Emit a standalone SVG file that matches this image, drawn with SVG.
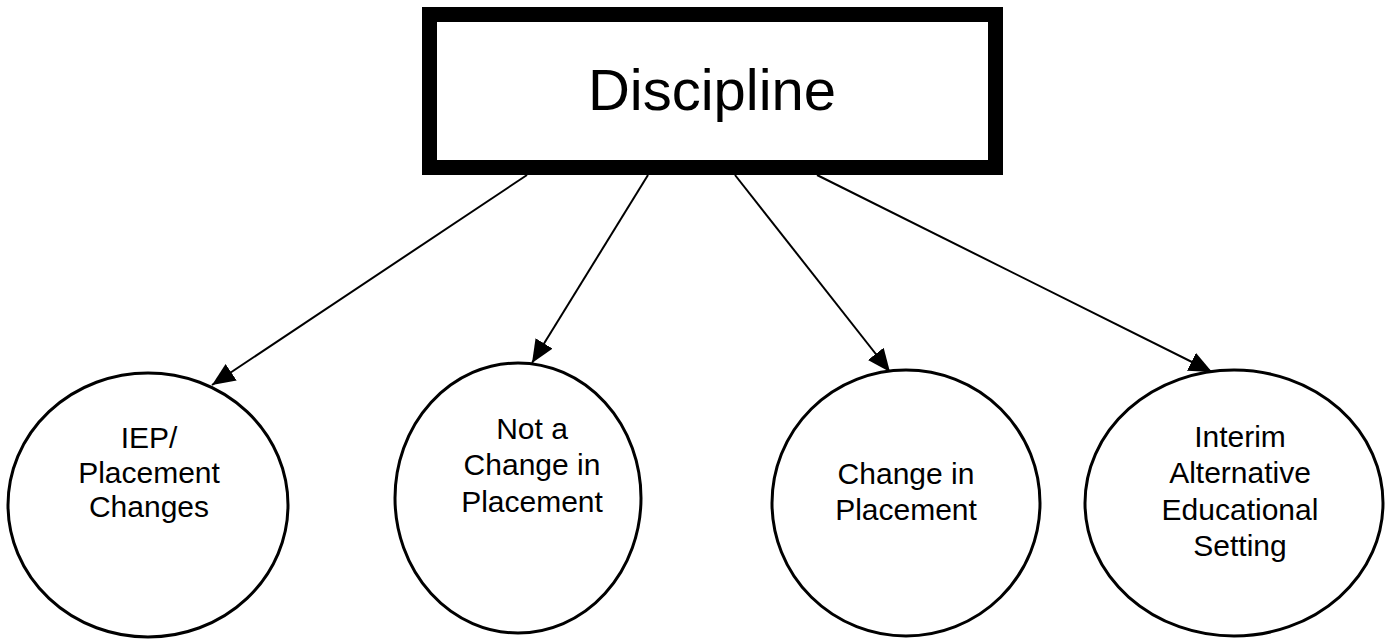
<svg xmlns="http://www.w3.org/2000/svg" width="1389" height="639" viewBox="0 0 1389 639">
<style>
.bg{fill:#fff}
.circ{fill:#fff;stroke:#000;stroke-width:3}
.box{fill:#fff;stroke:#000;stroke-width:15}
.lbl{font-family:"Liberation Sans",Arial,sans-serif;font-size:30px;fill:#000;text-anchor:middle}
.title{font-family:"Liberation Sans",Arial,sans-serif;font-size:58px;fill:#000;text-anchor:middle}
.conn{stroke:#000;stroke-width:2;fill:none;marker-end:url(#arrow)}
</style>
<defs>
<marker id="arrow" markerUnits="userSpaceOnUse" markerWidth="26" markerHeight="22" refX="23" refY="10" orient="auto">
<path d="M0,0 L23,10 L0,20 Z" fill="#000"/>
</marker>
</defs>
<rect class="bg" width="1389" height="639"/>
<g id="connectors">
<line class="conn" x1="527" y1="175" x2="212" y2="385"/>
<line class="conn" x1="648" y1="175" x2="532" y2="363"/>
<line class="conn" x1="735" y1="175" x2="890" y2="372"/>
<line class="conn" x1="817" y1="175" x2="1212" y2="372"/>
</g>
<g id="discipline">
<rect class="box" x="429.5" y="14.5" width="566" height="153"/>
<text class="title" x="712" y="110">Discipline</text>
</g>
<g id="iep">
<ellipse class="circ" cx="148" cy="505" rx="140" ry="132"/>
<text class="lbl" x="149" y="448">IEP/</text>
<text class="lbl" x="149" y="483">Placement</text>
<text class="lbl" x="149" y="517">Changes</text>
</g>
<g id="not-change">
<ellipse class="circ" cx="518" cy="498" rx="123" ry="135"/>
<text class="lbl" x="532" y="439">Not a</text>
<text class="lbl" x="532" y="475">Change in</text>
<text class="lbl" x="532" y="512">Placement</text>
</g>
<g id="change">
<ellipse class="circ" cx="906" cy="503" rx="134" ry="133"/>
<text class="lbl" x="906" y="484">Change in</text>
<text class="lbl" x="906" y="520">Placement</text>
</g>
<g id="interim">
<ellipse class="circ" cx="1234" cy="503" rx="149" ry="133"/>
<text class="lbl" x="1240" y="447">Interim</text>
<text class="lbl" x="1240" y="483">Alternative</text>
<text class="lbl" x="1240" y="520">Educational</text>
<text class="lbl" x="1240" y="556">Setting</text>
</g>
</svg>
